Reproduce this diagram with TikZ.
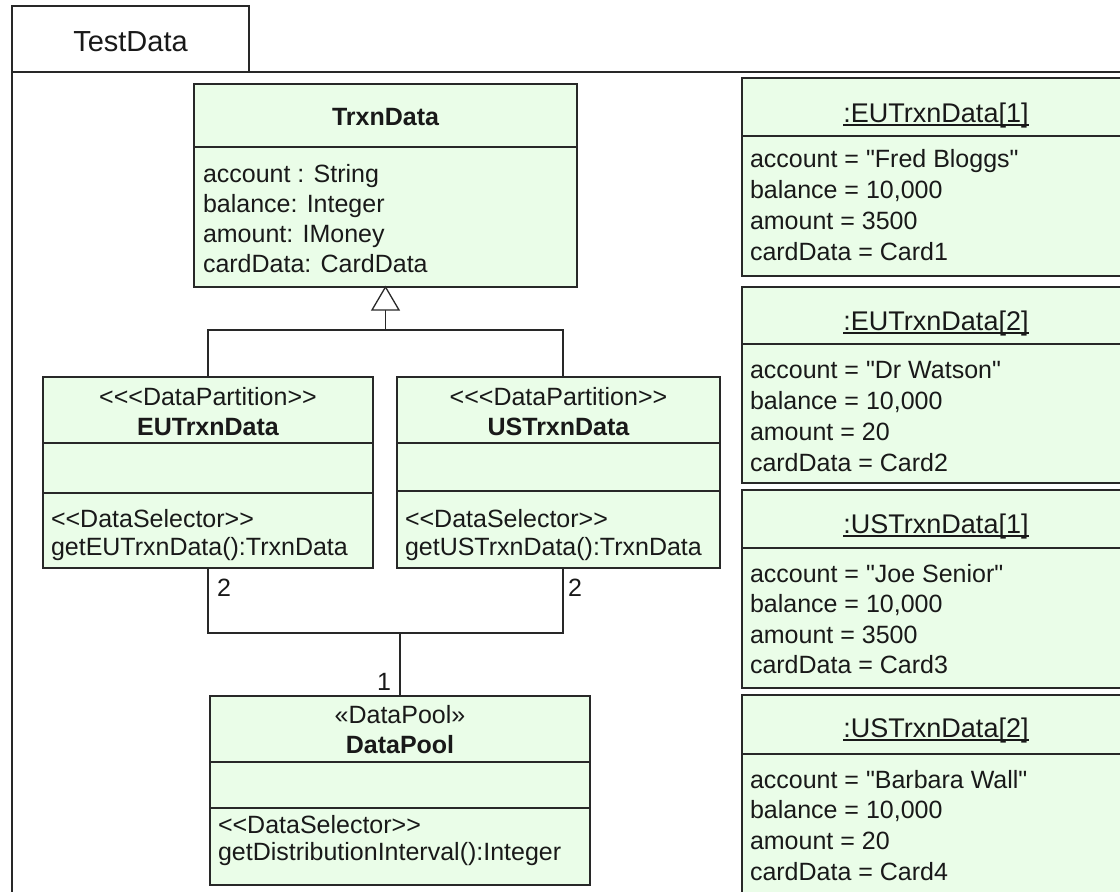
\documentclass[tikz,border=0pt]{standalone}
\usepackage{fontspec}
\setmainfont{Liberation Sans}[Ligatures=TeXOff]
\usetikzlibrary{calc}
\definecolor{boxfill}{RGB}{234,253,232}
\definecolor{ln}{RGB}{40,40,40}
\definecolor{tx}{RGB}{25,25,25}
\newcommand\myul[1]{\setbox0\hbox{#1}\rlap{\rule[-3.5pt]{\wd0}{1.5pt}}\box0}
\begin{document}
\begin{tikzpicture}[x=1pt,y=-1pt,
  comp/.style={draw=ln, line width=1.8pt, fill=boxfill, inner sep=0pt, outer sep=0pt, anchor=north west},
  txt/.style={inner sep=0pt, outer sep=0pt, anchor=base west, text=tx, font=\fontsize{25}{30}\selectfont},
  ctxt/.style={txt, anchor=base},
  btxt/.style={ctxt, font=\fontsize{25}{30}\selectfont\bfseries},
  otitle/.style={ctxt, font=\fontsize{27}{32}\selectfont},
  conn/.style={draw=ln, line width=1.3pt},
  framel/.style={draw=ln, line width=1.6pt}]
\useasboundingbox (0,0) rectangle (1120,892);
\clip (0,0) rectangle (1120,892);
\fill[white] (0,0) rectangle (1120,892);

% package frame
\node[draw=ln, line width=1.6pt, minimum width=237pt, minimum height=66pt, anchor=north west, inner sep=0pt, outer sep=0pt] (tab) at (12,6) {};
\node[ctxt, font=\fontsize{29}{34}\selectfont] (tabtxt) at (130.5,51) {TestData};
\draw[framel] (12,900) -- (tab.south west) -- (1140,72);

% TrxnData
\node[comp, minimum width=383pt, minimum height=63pt] (trxnH) at (194,84) {};
\node[comp, minimum width=383pt, minimum height=140pt] (trxnA) at (194,147) {};
\node[btxt] (trxnT) at (385.5,125) {TrxnData};
\foreach \s [count=\i from 0] in {account : String, balance: Integer, amount: IMoney, cardData: CardData}
  \node[txt] (trxnL\i) at (203,182+30*\i) {\s};

% EUTrxnData
\node[comp, minimum width=330pt, minimum height=66pt] (euH) at (43,377) {};
\node[comp, minimum width=330pt, minimum height=50pt] (euM) at (43,443) {};
\node[comp, minimum width=330pt, minimum height=75pt] (euO) at (43,493) {};
\node[ctxt] (euS) at (208,405) {<<<DataPartition>>};
\node[btxt] (euT) at (208,435) {EUTrxnData};
\node[txt] (euO1) at (51,527) {<<DataSelector>>};
\node[txt] (euO2) at (51,555) {getEUTrxnData():TrxnData};

% USTrxnData
\node[comp, minimum width=323pt, minimum height=66pt] (usH) at (397,377) {};
\node[comp, minimum width=323pt, minimum height=48pt] (usM) at (397,443) {};
\node[comp, minimum width=323pt, minimum height=77pt] (usO) at (397,491) {};
\node[ctxt] (usS) at (558.5,405) {<<<DataPartition>>};
\node[btxt] (usT) at (558.5,435) {USTrxnData};
\node[txt] (usO1) at (405,527) {<<DataSelector>>};
\node[txt] (usO2) at (405,555) {getUSTrxnData():TrxnData};

% DataPool
\node[comp, minimum width=380pt, minimum height=66pt] (dpH) at (210,696) {};
\node[comp, minimum width=380pt, minimum height=46pt] (dpM) at (210,762) {};
\node[comp, minimum width=380pt, minimum height=77pt] (dpO) at (210,808) {};
\node[ctxt] (dpS) at (400,723) {«DataPool»};
\node[btxt] (dpT) at (400,753) {DataPool};
\node[txt] (dpO1) at (218,833) {<<DataSelector>>};
\node[txt] (dpO2) at (218,860) {getDistributionInterval():Integer};

% generalization
\coordinate (triB) at ($(trxnA.south)+(0,23)$);
\coordinate (genbar) at ($(triB)+(0,20)$);
\coordinate (usjoin) at ($(usH.north)+(4.5,0)$);
\draw[conn] (euH.north) |- (genbar) -| (usjoin);
\draw[conn] (triB) -- (genbar);
\draw[draw=ln, line width=1.3pt, fill=white, line join=miter] (trxnA.south) -- ($(triB)+(-13.5,0)$) -- ($(triB)+(13.5,0)$) -- cycle;

% association
\coordinate (abar) at (400,633);
\coordinate (usjoinB) at ($(usO.south)+(4.5,0)$);
\draw[conn] (euO.south) |- (abar) -| (usjoinB);
\draw[conn] (abar) -- (dpH.north);
\node[txt] (m1) at (217,596) {2};
\node[txt] (m2) at (568,596) {2};
\node[txt, anchor=base east] (m3) at (391,690) {1};

% object instances
\node[comp, minimum width=390pt, minimum height=58pt] (o1H) at (742,78) {};
\node[comp, minimum width=390pt, minimum height=140pt] (o1A) at (742,136) {};
\node[otitle] (o1T) at (936,122) {\myul{:EUTrxnData[1]}};
\foreach \s [count=\i from 0] in {account = "Fred Bloggs", {balance = 10,000}, amount = 3500, cardData = Card1}
  \node[txt] (o1L\i) at (750,167+31*\i) {\s};

\node[comp, minimum width=390pt, minimum height=57pt] (o2H) at (742,287) {};
\node[comp, minimum width=390pt, minimum height=139pt] (o2A) at (742,344) {};
\node[otitle] (o2T) at (936,330) {\myul{:EUTrxnData[2]}};
\foreach \s [count=\i from 0] in {account = "Dr Watson", {balance = 10,000}, amount = 20, cardData = Card2}
  \node[txt] (o2L\i) at (750,378+31*\i) {\s};

\node[comp, minimum width=390pt, minimum height=58pt] (o3H) at (742,490) {};
\node[comp, minimum width=390pt, minimum height=140pt] (o3A) at (742,548) {};
\node[otitle] (o3T) at (936,533) {\myul{:USTrxnData[1]}};
\foreach \s [count=\i from 0] in {account = "Joe Senior", {balance = 10,000}, amount = 3500, cardData = Card3}
  \node[txt] (o3L\i) at (750,582+30.5*\i) {\s};

\node[comp, minimum width=390pt, minimum height=59pt] (o4H) at (742,695) {};
\node[comp, minimum width=390pt, minimum height=170pt] (o4A) at (742,754) {};
\node[otitle] (o4T) at (936,737) {\myul{:USTrxnData[2]}};
\foreach \s [count=\i from 0] in {account = "Barbara Wall", {balance = 10,000}, amount = 20, cardData = Card4}
  \node[txt] (o4L\i) at (750,788+30.7*\i) {\s};
\end{tikzpicture}
\end{document}
